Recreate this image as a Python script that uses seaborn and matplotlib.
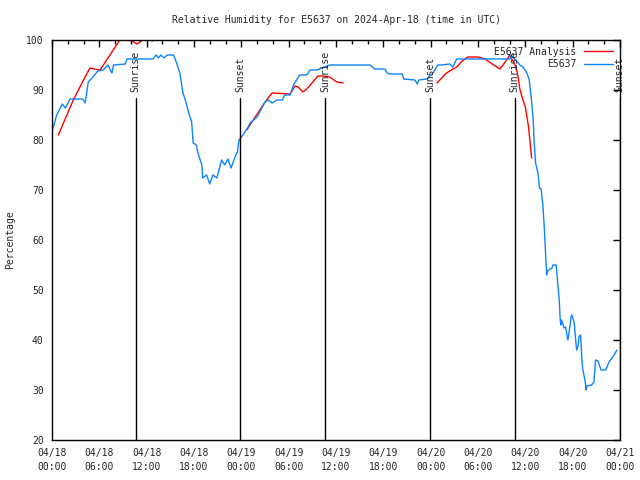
import numpy as np
import pandas as pd
import matplotlib
matplotlib.use('Agg')
import matplotlib.pyplot as plt
import matplotlib.dates as mdates
from matplotlib.lines import Line2D
import seaborn as sns

# hours since 2024-04-18 00:00 UTC and relative humidity (%)
obs_hours = [0.1, 0.6, 1.3, 1.7, 2.3, 3.9, 4.2, 4.6, 5.2, 5.8, 6.5, 7.1, 7.6, 7.8, 9.3, 9.5,
             12.8, 13.2, 13.5, 13.8, 14.2, 14.6, 15.0, 15.4, 15.8, 16.2, 16.6, 16.9, 17.3, 17.7,
             17.9, 18.3, 18.5, 19.0, 19.1, 19.6, 20.0, 20.4, 20.9, 21.5, 21.9, 22.3, 22.7, 23.2,
             23.5, 23.7, 24.2, 24.8, 25.1, 26.0, 26.6, 27.0, 27.4, 27.9, 28.5, 29.2, 29.5, 30.2,
             30.6, 31.4, 32.3, 32.7, 33.6, 34.2, 35.2, 40.3, 40.6, 40.9, 42.2, 42.5, 42.8, 44.4,
             44.6, 46.0, 46.3, 46.5, 47.5, 48.3, 48.9, 49.4, 50.4, 50.8, 51.3, 58.0, 58.2, 58.5,
             58.9, 59.3, 59.7, 60.2, 60.5, 60.8, 61.0, 61.1, 61.3, 61.6, 61.8, 62.0, 62.2, 62.4,
             62.6, 62.7, 62.9, 63.4, 63.5, 63.9, 64.0, 64.1, 64.3, 64.4, 64.5, 64.6, 64.9, 65.1,
             65.4, 65.5, 65.8, 65.9, 66.2, 66.3, 66.5, 66.7, 66.8, 67.0, 67.1, 67.2, 67.3, 67.6,
             67.7, 67.8, 68.4, 68.7, 68.8, 68.9, 69.2, 69.6, 70.2, 70.6, 71.0, 71.4, 71.6]
obs_rh = [82.2, 85.0, 87.2, 86.4, 88.2, 88.2, 87.4, 91.6, 92.6, 93.8, 94.0, 95.0, 93.4, 95.0, 95.2, 96.2,
          96.2, 97.0, 96.4, 97.0, 96.4, 97.0, 97.0, 97.0, 95.4, 93.4, 89.4, 88.0, 85.6, 83.6,
          79.4, 79.0, 77.4, 75.0, 72.4, 73.0, 71.2, 73.0, 72.4, 76.0, 75.0, 76.2, 74.4, 76.6,
          77.6, 80.0, 81.0, 82.4, 83.4, 84.6, 86.4, 87.6, 88.0, 87.4, 88.0, 88.0, 89.0, 89.0,
          91.0, 93.0, 93.0, 94.0, 94.0, 94.4, 95.0, 95.0, 94.6, 94.2, 94.2, 93.4, 93.2, 93.2,
          92.2, 92.0, 91.2, 92.0, 92.2, 93.4, 95.0, 95.0, 95.2, 94.6, 96.2, 96.2, 97.0, 96.4,
          95.8, 95.0, 94.6, 93.4, 92.0, 87.6, 84.0, 80.0, 75.4, 73.4, 70.4, 70.2, 67.4, 62.6,
          56.4, 53.0, 54.0, 54.4, 55.0, 55.0, 53.4, 51.4, 48.0, 44.6, 43.0, 44.0, 42.4, 42.6,
          40.0, 41.0, 44.6, 45.0, 43.4, 41.4, 38.0, 39.0, 40.6, 41.0, 38.4, 35.4, 34.0, 31.6,
          30.0, 30.8, 31.0, 31.6, 34.0, 36.0, 35.8, 34.0, 34.0, 35.6, 36.4, 37.4, 38.0]

# analysis series comes in three separate runs
ana_hours = [0.8, 2.7, 3.8, 4.8, 5.4, 6.1, 8.6, 9.2, 9.9, 10.8, 11.5, 12.0, 12.8,
             24.7, 25.5, 26.6, 27.2, 27.9, 30.2, 30.8, 31.2, 31.8, 32.3, 33.7, 34.3, 35.2, 36.1, 36.9,
             48.8, 50.0, 51.3, 52.0, 52.7, 54.0, 54.9, 55.8, 56.8, 57.8, 58.0, 58.7, 59.0, 59.3,
             59.7, 60.0, 60.4, 60.8]
ana_rh = [81.0, 88.0, 91.4, 94.4, 94.2, 94.0, 100.0, 101.0, 100.0, 99.2, 100.0, 100.2, 99.8,
          82.0, 84.0, 86.6, 88.0, 89.4, 89.2, 90.8, 90.6, 89.6, 90.2, 92.8, 92.8, 92.6, 91.6, 91.4,
          91.4, 93.4, 94.6, 95.8, 96.6, 96.6, 96.2, 95.2, 94.2, 96.4, 97.0, 95.0, 93.4, 90.2,
          88.0, 86.6, 82.7, 76.4]
ana_run = [1] * 13 + [2] * 15 + [3] * 18

sunrise_hours = [10.6, 34.65, 58.65]
sunset_hours = [23.85, 47.95, 71.95]

start = pd.Timestamp('2024-04-18 00:00')
obs = pd.DataFrame({'time': start + pd.to_timedelta(obs_hours, unit='h'), 'rh': obs_rh, 'run': 1})
ana = pd.DataFrame({'time': start + pd.to_timedelta(ana_hours, unit='h'), 'rh': ana_rh, 'run': ana_run})

red = '#ff0000'
blue = '#0b84ff'

sns.set_style('white')
plt.rcParams['font.family'] = ['DejaVu Sans Mono']
plt.rcParams['font.size'] = 7

fig = plt.figure(figsize=(6.4, 4.8), dpi=100)
ax = fig.add_axes([52 / 640, 40 / 480, 568 / 640, 400 / 480])

sns.lineplot(data=ana, x='time', y='rh', units='run', estimator=None, color=red,
             linewidth=1.0, ax=ax, legend=False)
sns.lineplot(data=obs, x='time', y='rh', units='run', estimator=None, color=blue,
             linewidth=1.0, ax=ax, legend=False)

# sunrise / sunset markers
for h in sunrise_hours + sunset_hours:
    t = start + pd.Timedelta(hours=h)
    ax.plot([t, t], [20, 88.4], color='black', linewidth=1.0)
    ax.text(t, 89.6, 'Sunrise' if h in sunrise_hours else 'Sunset', rotation=90,
            ha='center', va='bottom', fontsize=7)

ax.set_xlim(start, start + pd.Timedelta(hours=72))
ax.set_ylim(20, 100)
ax.set_yticks(range(20, 101, 10))
ax.xaxis.set_major_locator(mdates.HourLocator(byhour=[0, 6, 12, 18]))
ax.xaxis.set_minor_locator(mdates.HourLocator(byhour=range(0, 24, 2)))
ax.xaxis.set_major_formatter(mdates.DateFormatter('%m/%d\n%H:%M'))
ax.tick_params(axis='both', which='both', direction='in', top=True, right=True,
               labelsize=7, color='black', pad=6)
ax.tick_params(which='major', length=5, width=1)
ax.tick_params(which='minor', length=3, width=1)
for lbl in ax.get_xticklabels():
    lbl.set_linespacing(1.5)
for s in ax.spines.values():
    s.set_color('black')
    s.set_linewidth(1.0)

ax.set_xlabel('')
ax.set_ylabel('Percentage', fontsize=7, labelpad=8)
ax.set_title('Relative Humidity for E5637 on 2024-Apr-18 (time in UTC)', fontsize=7, pad=12)
handles = [Line2D([], [], color=red, linewidth=1.0), Line2D([], [], color=blue, linewidth=1.0)]
ax.legend(handles, ['E5637 Analysis', 'E5637'], loc='upper right', frameon=False,
          markerfirst=False, handlelength=3.0, fontsize=7, borderaxespad=0.3,
          labelspacing=0.25, handletextpad=0.8)

fig.savefig('out.png', dpi=100)
